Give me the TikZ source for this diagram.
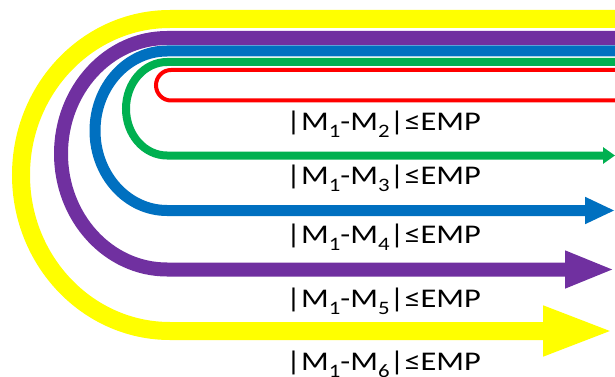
\documentclass[tikz,border=0pt]{standalone}
\usepackage{fontspec}
\setmainfont{Carlito}
\usetikzlibrary{arrows.meta}
\definecolor{cyellow}{HTML}{FFFF00}
\definecolor{cpurple}{HTML}{7030A0}
\definecolor{cblue}{HTML}{0070C0}
\definecolor{cgreen}{HTML}{00B050}
\definecolor{cred}{HTML}{FF0000}
% lowered index digit
\newcommand\lowdigit[1]{\raisebox{-7pt}{\fontsize{19}{20}\selectfont #1}}
\newcommand\cond[1]{|M\lowdigit{1}-M\lowdigit{#1}|≤EMP}
\begin{document}
\begin{tikzpicture}[x=1pt,y=1pt,
  lane/.style={line join=miter},
  condlabel/.style={anchor=base west,inner sep=0pt,xscale=1.2,transform shape,
    font=\fontsize{27}{30}\selectfont}]
\useasboundingbox (0,0) rectangle (615,-377);
% start (top, right) and end (bottom, right) of each loop
\coordinate (y0) at (615,-19);   \coordinate (y1) at (615,-331);
\coordinate (p0) at (615,-38);   \coordinate (p1) at (615,-269.5);
\coordinate (b0) at (615,-51);   \coordinate (b1) at (615,-210.5);
\coordinate (g0) at (615,-62);   \coordinate (g1) at (615,-155.5);
\coordinate (r0) at (615,-70);   \coordinate (r1) at (615,-100.5);
% nested U-turn loops, outermost first
\draw[lane,cyellow,line width=18pt,-{Triangle[length=72pt,width=45pt]}]
  (y0) -- (170,-19) arc[start angle=90,end angle=270,x radius=149pt,y radius=156pt] -- (y1);
\draw[lane,cpurple,line width=14pt,-{Triangle[length=50pt,width=34pt]}]
  (p0) -- (167,-38) arc[start angle=90,end angle=270,x radius=106pt,y radius=115.75pt] -- (p1);
\draw[lane,cblue,line width=11pt,-{Triangle[length=30pt,width=25pt]}]
  (b0) -- (167,-51) arc[start angle=90,end angle=270,x radius=72pt,y radius=79.75pt] -- (b1);
\draw[lane,cgreen,line width=8pt,-{Triangle[length=12pt,width=16pt]}]
  (g0) -- (167,-62) arc[start angle=90,end angle=270,x radius=41pt,y radius=46.75pt] -- (g1);
\draw[lane,cred,line width=4pt]
  (r0) -- (171,-70) arc[start angle=90,end angle=270,x radius=15pt,y radius=15.25pt] -- (r1);
% conditions under each loop
\node[condlabel] (c2) at (286,-130) {\cond{2}};
\node[condlabel] (c3) at (286,-184) {\cond{3}};
\node[condlabel] (c4) at (286,-243) {\cond{4}};
\node[condlabel] (c5) at (286,-307) {\cond{5}};
\node[condlabel] (c6) at (286,-370) {\cond{6}};
\end{tikzpicture}
\end{document}
